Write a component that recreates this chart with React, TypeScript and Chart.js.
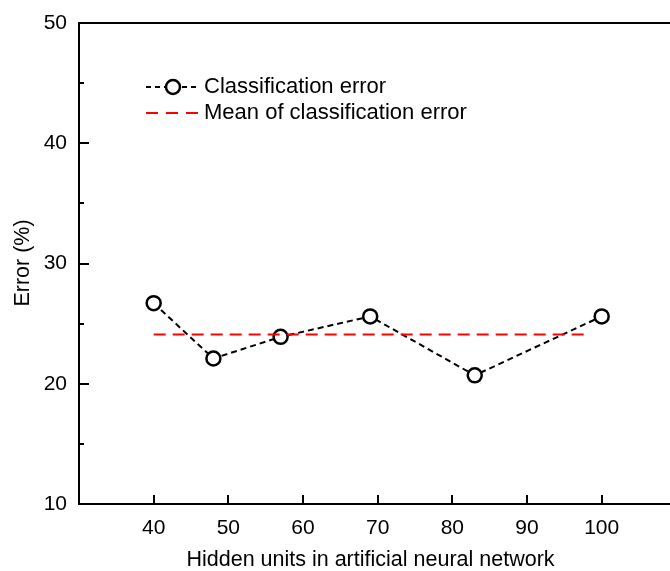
import { useEffect, useRef } from "react";
import { Chart, registerables } from "chart.js";

Chart.register(...registerables);

const hiddenUnits = [40, 48, 57, 69, 83, 100];
const classificationError = [26.7, 22.1, 23.9, 25.6, 20.7, 25.6];
const meanX = [40, 98];
const meanError = [24.1, 24.1];
const xTickValues = [40, 50, 60, 70, 80, 90, 100];
const yTickValues = [10, 20, 30, 40, 50];
const yMinorTickValues = [15, 25, 35, 45];
const seriesLabels = ["Classification error", "Mean of classification error"];
const xTitle = "Hidden units in artificial neural network";
const yTitle = "Error (%)";

const FONT = "'Liberation Sans', Arial, sans-serif";

const decorPlugin = {
  id: "decor",
  afterDatasetsDraw(chart: any) {
    const { ctx, chartArea, scales } = chart;
    const xs = scales.x;
    const ys = scales.y;
    ctx.save();
    ctx.strokeStyle = "#000";
    ctx.lineWidth = 2;
    ctx.setLineDash([]);
    // top frame line
    ctx.beginPath();
    ctx.moveTo(chartArea.left - 1, chartArea.top);
    ctx.lineTo(chartArea.right + 2, chartArea.top);
    ctx.stroke();
    // inward ticks
    ctx.beginPath();
    for (const v of xTickValues) {
      const px = Math.round(xs.getPixelForValue(v));
      ctx.moveTo(px, chartArea.bottom);
      ctx.lineTo(px, chartArea.bottom - 9);
    }
    for (const v of yTickValues) {
      const py = Math.round(ys.getPixelForValue(v));
      ctx.moveTo(chartArea.left, py);
      ctx.lineTo(chartArea.left + 10, py);
    }
    for (const v of yMinorTickValues) {
      const py = Math.round(ys.getPixelForValue(v));
      ctx.moveTo(chartArea.left, py);
      ctx.lineTo(chartArea.left + 5, py);
    }
    ctx.stroke();

    // axis titles
    ctx.fillStyle = "#000";
    ctx.font = `21.5px ${FONT}`;
    ctx.textAlign = "center";
    ctx.textBaseline = "middle";
    ctx.fillText(xTitle, 370.5, 560);
    ctx.save();
    ctx.translate(23, 263);
    ctx.rotate(-Math.PI / 2);
    ctx.fillText(yTitle, 0, 0);
    ctx.restore();

    // legend
    const ds0 = chart.data.datasets[1];
    const ds1 = chart.data.datasets[0];
    const lx0 = 146;
    const lx1 = 198;
    const ly0 = 87;
    const ly1 = 113;
    ctx.lineWidth = 2;
    ctx.strokeStyle = ds0.borderColor;
    ctx.setLineDash([5, 4]);
    ctx.beginPath();
    ctx.moveTo(lx0, ly0);
    ctx.lineTo(lx1, ly0);
    ctx.stroke();
    ctx.setLineDash([]);
    ctx.beginPath();
    ctx.arc((lx0 + lx1) / 2 + 1, ly0, ds0.pointRadius, 0, Math.PI * 2);
    ctx.fillStyle = "#fff";
    ctx.fill();
    ctx.lineWidth = ds0.pointBorderWidth;
    ctx.strokeStyle = ds0.pointBorderColor;
    ctx.stroke();

    ctx.lineWidth = 2;
    ctx.strokeStyle = ds1.borderColor;
    ctx.setLineDash([12, 8]);
    ctx.beginPath();
    ctx.moveTo(lx0, ly1);
    ctx.lineTo(lx1, ly1);
    ctx.stroke();
    ctx.setLineDash([]);

    ctx.fillStyle = "#000";
    ctx.font = `22px ${FONT}`;
    ctx.textAlign = "left";
    ctx.textBaseline = "middle";
    ctx.fillText(ds0.label, 204, ly0);
    ctx.fillText(ds1.label, 204, ly1);
    ctx.restore();
  },
};

export default function App() {
  const canvasRef = useRef<HTMLCanvasElement | null>(null);

  useEffect(() => {
    document.body.style.margin = "0";
    const canvas = canvasRef.current;
    if (!canvas) return;
    const chart = new Chart(canvas, {
      type: "line",
      data: {
        datasets: [
          {
            label: seriesLabels[1],
            data: meanX.map((x, i) => ({ x, y: meanError[i] })),
            borderColor: "#ff0000",
            borderWidth: 2,
            borderDash: [12, 7],
            pointRadius: 0,
            fill: false,
          },
          {
            label: seriesLabels[0],
            data: hiddenUnits.map((x, i) => ({ x, y: classificationError[i] })),
            borderColor: "#000",
            borderWidth: 2,
            borderDash: [6, 4],
            pointRadius: 7,
            pointBorderWidth: 2.5,
            pointBackgroundColor: "#fff",
            pointBorderColor: "#000",
            fill: false,
          },
        ],
      },
      options: {
        animation: false,
        responsive: false,
        devicePixelRatio: 1,
        layout: { autoPadding: false, padding: { top: 23, right: 0, left: 0, bottom: 0 } },
        plugins: {
          legend: { display: false },
          tooltip: { enabled: false },
        },
        scales: {
          x: {
            type: "linear",
            min: 30,
            max: 109.15,
            grid: { display: false, drawTicks: false },
            border: { display: true, color: "#000", width: 2 },
            ticks: {
              color: "#000",
              font: { family: FONT, size: 21 },
              padding: 12,
              maxRotation: 0,
              autoSkip: false,
            },
            afterBuildTicks: (s: any) => {
              s.ticks = xTickValues.map((v) => ({ value: v }));
            },
            afterFit: (s: any) => {
              s.height = 67;
              s.paddingLeft = 0;
              s.paddingRight = 0;
            },
          },
          y: {
            type: "linear",
            min: 10,
            max: 50,
            grid: { display: false, drawTicks: false },
            border: { display: true, color: "#000", width: 2 },
            ticks: {
              color: "#000",
              font: { family: FONT, size: 21 },
              padding: 12,
              autoSkip: false,
            },
            afterBuildTicks: (s: any) => {
              s.ticks = yTickValues.map((v) => ({ value: v }));
            },
            afterFit: (s: any) => {
              s.width = 79;
              s.paddingTop = 0;
              s.paddingBottom = 0;
            },
          },
        },
      },
      plugins: [decorPlugin],
    });
    return () => chart.destroy();
  }, []);

  return (
    <canvas
      ref={canvasRef}
      width={670}
      height={571}
      style={{ display: "block", width: 670, height: 571 }}
    />
  );
}
